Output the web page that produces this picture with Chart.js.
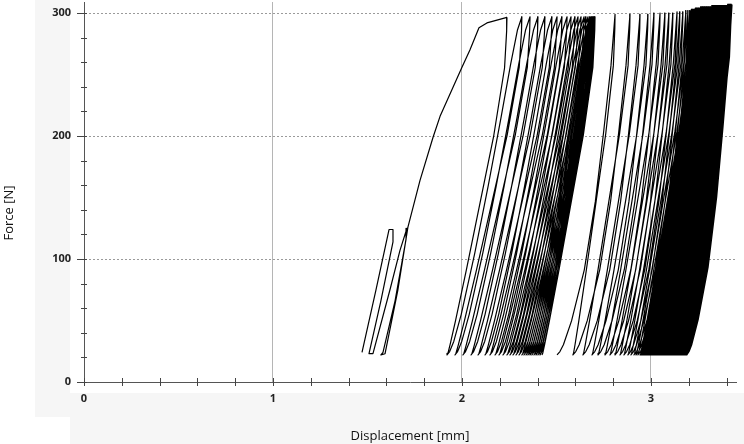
<!DOCTYPE html>
<html>
<head>
<meta charset="utf-8">
<script src="https://cdn.jsdelivr.net/npm/chart.js@4.4.1/dist/chart.umd.min.js"></script>
<style>
  html, body { margin: 0; padding: 0; background: #fff; }
</style>
</head>
<body>
<canvas id="loops" width="744" height="444"></canvas>
<script>
// axis ticks (labels only on whole mm / hundreds of N)
const xTickValues = [0, 0.2, 0.4, 0.6, 0.8, 1, 1.2, 1.4, 1.6, 1.8, 2, 2.2, 2.4, 2.6, 2.8, 3, 3.2, 3.4];
const yTickValues = [0, 20, 40, 60, 80, 100, 120, 140, 160, 180, 200, 220, 240, 260, 280, 300];

// first loading with two small loops, then the virgin curve up to the first peak
const virginX = [1.471, 1.545, 1.614, 1.635, 1.635, 1.571, 1.508, 1.529, 1.619, 1.672, 1.709,
  1.704, 1.646, 1.582, 1.571, 1.593, 1.661, 1.714, 1.778, 1.847, 1.884, 2.000, 2.042, 2.090,
  2.132, 2.238];
const virginF = [24, 75, 124, 124, 114, 66, 23, 23, 75, 107, 125,
  116, 66, 24, 22, 23, 75, 126, 164, 199, 216, 256, 270, 288,
  292, 296.5];

// block A: cycles after the first peak (valleys, then the peak reached from each valley)
const blockAValleyX = [1.921, 1.963, 2.005, 2.048, 2.085, 2.122, 2.148, 2.175, 2.196, 2.217,
  2.238, 2.254, 2.270, 2.286, 2.302, 2.317, 2.328, 2.339, 2.349, 2.360, 2.370, 2.381, 2.392,
  2.402, 2.413, 2.423];
const blockAPeakX = [2.317, 2.360, 2.402, 2.439, 2.476, 2.503, 2.529, 2.556, 2.577, 2.598,
  2.614, 2.630, 2.646, 2.656, 2.667, 2.677, 2.683, 2.688, 2.693, 2.698, 2.701, 2.704, 2.704,
  2.704, 2.704];
const blockAPeakF = [297, 297, 297, 297, 297, 297, 297, 297, 297, 297, 297, 297, 297, 297,
  297, 297, 297, 297, 297, 297, 297, 297, 297, 297, 297];

// block B: second run of cycles
const blockBValleyX = [2.503, 2.587, 2.640, 2.688, 2.720, 2.757, 2.783, 2.810, 2.836, 2.857,
  2.878, 2.894, 2.910, 2.921, 2.931, 2.942,
  2.946, 2.950, 2.954, 2.958, 2.962, 2.966, 2.970, 2.974, 2.978, 2.982, 2.986, 2.990, 2.994, 2.998,
  3.002, 3.006, 3.010, 3.014, 3.018, 3.022, 3.026, 3.030, 3.034, 3.038, 3.042, 3.046, 3.050,
  3.054, 3.058, 3.062, 3.066, 3.070, 3.074, 3.078, 3.082, 3.086, 3.090, 3.094, 3.098,
  3.102, 3.106, 3.110, 3.114, 3.118, 3.122, 3.126, 3.130, 3.134, 3.138, 3.142, 3.146, 3.150,
  3.154, 3.158, 3.162, 3.166, 3.170, 3.174, 3.178, 3.182, 3.186, 3.190];
const blockBPeakX = [2.810, 2.889, 2.942, 2.984, 3.016, 3.048, 3.074, 3.095, 3.116, 3.138,
  3.153, 3.169, 3.185, 3.196, 3.206, 3.212,
  3.215, 3.218, 3.222, 3.225, 3.229, 3.232, 3.236, 3.239, 3.243, 3.246, 3.250, 3.253, 3.257, 3.260,
  3.264, 3.267, 3.271, 3.274, 3.278, 3.281, 3.285, 3.288, 3.292, 3.295, 3.299, 3.302, 3.306,
  3.309, 3.313, 3.316, 3.320, 3.323, 3.327, 3.330, 3.334, 3.337, 3.341, 3.344, 3.348,
  3.351, 3.355, 3.358, 3.362, 3.365, 3.369, 3.372, 3.376, 3.379, 3.383, 3.386, 3.390, 3.393,
  3.397, 3.400, 3.404, 3.407, 3.411, 3.414, 3.418, 3.421, 3.425, 3.429];
const blockBPeakF = [299, 299, 299, 299, 300, 300, 300, 300, 300, 301, 301, 301, 302, 302, 302, 302,
  303, 303, 303, 303, 303, 303, 304, 304, 304, 304, 304, 304, 304, 304,
  305, 305, 305, 305, 305, 305, 305, 305, 305, 305, 305, 305, 305,
  305, 305, 305, 305, 306, 306, 306, 306, 306, 306, 306, 306,
  306, 306, 306, 306, 306, 306, 306, 306, 306, 306, 306, 306, 306,
  306, 306, 306, 307, 307, 307, 307, 307, 307, 307];

const valleyForce = 22;

const loadAF = [0, 0.01, 0.04, 0.12, 0.3, 0.5, 0.7, 0.86, 0.96, 1];
const loadAX = [0, 0.035, 0.09, 0.19, 0.37, 0.55, 0.72, 0.85, 0.94, 1];
const loadBF = [0, 0.01, 0.03, 0.1, 0.25, 0.45, 0.65, 0.85, 1];
const loadBX = [0, 0.05, 0.11, 0.25, 0.47, 0.66, 0.8, 0.93, 1];
const unloadF = [0, 0.04, 0.15, 0.35, 0.55, 0.75, 0.9, 0.97, 0.995, 1];
const unloadX = [0, 0.005, 0.04, 0.22, 0.45, 0.68, 0.86, 0.95, 0.985, 1];

function cyclePath(start, valleys, peaks, peakF, shapeF, shapeX) {
  const pts = [];
  let prev = start;
  valleys.forEach((v, i) => {
    if (prev) {
      unloadF.forEach((f, k) => {
        if (k === 0) return;
        pts.push({ x: prev.x - (prev.x - v) * unloadX[k], y: prev.y - (prev.y - valleyForce) * f });
      });
    } else {
      pts.push({ x: v, y: valleyForce });
    }
    if (i < peaks.length) {
      shapeF.forEach((g, k) => {
        if (k === 0) return;
        pts.push({ x: v + (peaks[i] - v) * shapeX[k], y: valleyForce + (peakF[i] - valleyForce) * g });
      });
      prev = { x: peaks[i], y: peakF[i] };
    }
  });
  return pts;
}

const virginPts = virginX.map((x, i) => ({ x, y: virginF[i] }));
const last = virginPts[virginPts.length - 1];
const blockAPts = [last].concat(cyclePath(last, blockAValleyX, blockAPeakX, blockAPeakF, loadAF, loadAX));
const blockBPts = cyclePath(null, blockBValleyX, blockBPeakX, blockBPeakF, loadBF, loadBX);

const lineStyle = {
  showLine: true,
  pointRadius: 0,
  borderWidth: 1.2,
  borderColor: '#000',
  borderJoinStyle: 'round',
  fill: false,
  tension: 0,
  clip: false
};

const near = (v, step) => Math.abs(v / step - Math.round(v / step)) < 1e-6;

const refMarks = {
  id: 'refMarks',
  beforeDraw(chart) {
    const c = chart.ctx;
    c.save();
    c.fillStyle = '#f6f6f6';
    c.fillRect(35, 0, 35, 417);
    c.fillRect(70, 393, 674, 51);
    c.restore();
  },
  afterDraw(chart) {
    const c = chart.ctx;
    const xs = chart.scales.x, ys = chart.scales.y;
    c.save();
    c.strokeStyle = '#444';
    c.lineWidth = 1;
    c.beginPath();
    xs.ticks.forEach(t => {
      const px = Math.round(xs.getPixelForValue(t.value)) + 0.5;
      c.moveTo(px, ys.bottom - 4);
      c.lineTo(px, ys.bottom + 4);
    });
    ys.ticks.forEach(t => {
      const py = Math.round(ys.getPixelForValue(t.value)) + 0.5;
      const major = near(t.value, 100);
      c.moveTo(xs.left - (major ? 7 : 3), py);
      c.lineTo(xs.left + 3, py);
    });
    c.stroke();
    c.translate(9, 213);
    c.rotate(-Math.PI / 2);
    c.font = '13px "Open Sans", sans-serif';
    c.fillStyle = '#111';
    c.textAlign = 'center';
    c.textBaseline = 'middle';
    c.fillText('Force [N]', 0, 0);
    c.restore();
  }
};

const tickFont = { family: '"Open Sans", sans-serif', size: 11, weight: 'bold' };

new Chart(document.getElementById('loops').getContext('2d'), {
  type: 'scatter',
  data: {
    datasets: [
      { ...lineStyle, data: virginPts },
      { ...lineStyle, data: blockAPts },
      { ...lineStyle, data: blockBPts }
    ]
  },
  options: {
    responsive: false,
    animation: false,
    layout: { padding: { top: 2, right: 8, left: 0, bottom: 0 } },
    plugins: { legend: { display: false }, tooltip: { enabled: false } },
    scales: {
      x: {
        type: 'linear',
        min: 0,
        max: 3.45,
        afterFit: (s) => { s.height = 62; s.paddingLeft = 0; s.paddingRight = 0; },
        afterBuildTicks: (s) => { s.ticks = xTickValues.map(value => ({ value })); },
        ticks: {
          autoSkip: false,
          maxRotation: 0,
          padding: 10,
          color: '#222',
          font: tickFont,
          callback: (v) => near(v, 1) ? String(Math.round(v)) : ''
        },
        grid: {
          drawTicks: false,
          color: (ctx) => (ctx.tick && ctx.tick.value > 0 && near(ctx.tick.value, 1)) ? '#b5b5b5' : 'rgba(0,0,0,0)'
        },
        border: { display: true, color: '#555', width: 1 },
        title: {
          display: true,
          text: 'Displacement [mm]',
          color: '#111',
          font: { family: '"Open Sans", sans-serif', size: 13 },
          padding: { top: 2, bottom: 0 }
        }
      },
      y: {
        type: 'linear',
        min: 0,
        max: 309,
        afterFit: (s) => { s.width = 84; s.paddingTop = 0; s.paddingBottom = 0; },
        afterBuildTicks: (s) => { s.ticks = yTickValues.map(value => ({ value })); },
        ticks: {
          autoSkip: false,
          padding: 13,
          color: '#222',
          font: tickFont,
          callback: (v) => near(v, 100) ? String(Math.round(v)) : ''
        },
        grid: {
          drawTicks: false,
          color: (ctx) => (ctx.tick && ctx.tick.value > 0 && near(ctx.tick.value, 100)) ? '#9a9a9a' : 'rgba(0,0,0,0)'
        },
        border: { display: true, color: '#555', width: 1, dash: [2, 2] }
      }
    }
  },
  plugins: [refMarks]
});
</script>
</body>
</html>
